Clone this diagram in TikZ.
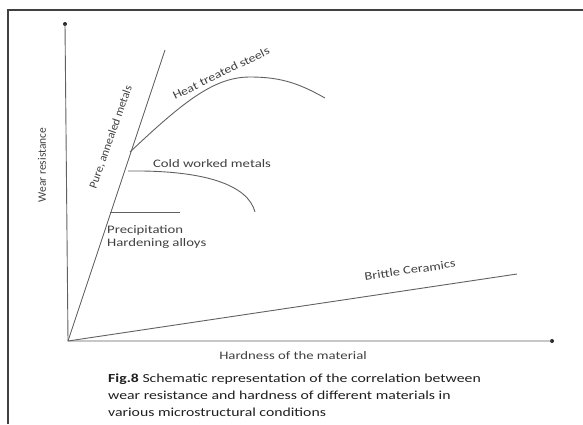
\documentclass[tikz,border=0pt]{standalone}
\usepackage{graphicx}
\usepackage{fontspec}
\setmainfont{Carlito}
\usetikzlibrary{positioning}
\newcommand{\wide}[2][1.28]{\scalebox{#1}[1]{#2}}
\tikzstyle{curve} = [draw, black!62, line width=0.9pt]
\tikzstyle{axis} = [draw, black!62, line width=0.9pt]
\tikzstyle{label} = [text=black!75, font=\fontsize{11.5}{16}\selectfont, inner sep=1pt]
\tikzstyle{dot} = [circle, fill=black!85, inner sep=0pt, minimum size=4pt]
\begin{document}
\begin{tikzpicture}[x=1pt, y=-1pt]
    \useasboundingbox (0,0) rectangle (583,424);
    % Frame
    \draw [black!75, line width=1.2pt] (8,424) -- (8,10) -- (583,10);
    % Place nodes
    \coordinate (origin) at (68,341);
    \node [dot] (ytop) at (65,24) {};
    \node [dot] (xend) at (552,341) {};
    \coordinate (pure) at (165,50);
    \coordinate (brittle) at (517,274);
    \coordinate (heatstart) at (130,152);
    \coordinate (heatpeak) at (250,77);
    \coordinate (heatend) at (325,98);
    \coordinate (coldstart) at (128,171);
    \coordinate (coldend) at (255,212);
    \coordinate (precstart) at (110,212);
    \coordinate (precend) at (180,212);
    \node [label, rotate=90] (wear) at (42,165) {Wear resistance};
    \node [label] (hardness) at (293,356) {\wide{Hardness of the material}};
    \node [label, rotate=70.5] (purelabel) at (111,137) {\wide[1.04]{Pure, annealed metals}};
    \node [label, rotate=26] (heatlabel) at (221,73) {\wide[1.2]{Heat treated steels}};
    \node [label] (coldlabel) at (212,164) {\wide{Cold worked metals}};
    \node [label, anchor=west] (preclabel) at (106,230) {\wide{Precipitation}};
    \node [label, below=1pt of preclabel.south west, anchor=north west, inner sep=1pt] (hardlabel) {\wide{Hardening alloys}};
    \node [label, rotate=8.5] (brittlelabel) at (410,270) {\wide[1.25]{Brittle Ceramics}};
    \node [text=black!88, font=\fontsize{12.3}{17}\selectfont, align=left, anchor=north west, inner sep=0pt] (caption) at (108,374)
        {\wide{\textbf{Fig.8} Schematic representation of the correlation between}\\
         \wide{wear resistance and hardness of different materials in}\\
         \wide{various microstructural conditions}};
    % Draw edges
    \path [axis] (ytop.center) -- (origin) -- (xend.center);
    \path [curve] (origin) -- (pure);
    \path [curve] (origin) -- (brittle);
    \path [curve] (heatstart) .. controls (185,100) and (215,77) .. (heatpeak)
        .. controls (282,77) and (300,84) .. (heatend);
    \path [curve] (coldstart) .. controls (205,170) and (248,185) .. (coldend);
    \path [curve] (precstart) -- (precend);
\end{tikzpicture}
\end{document}
